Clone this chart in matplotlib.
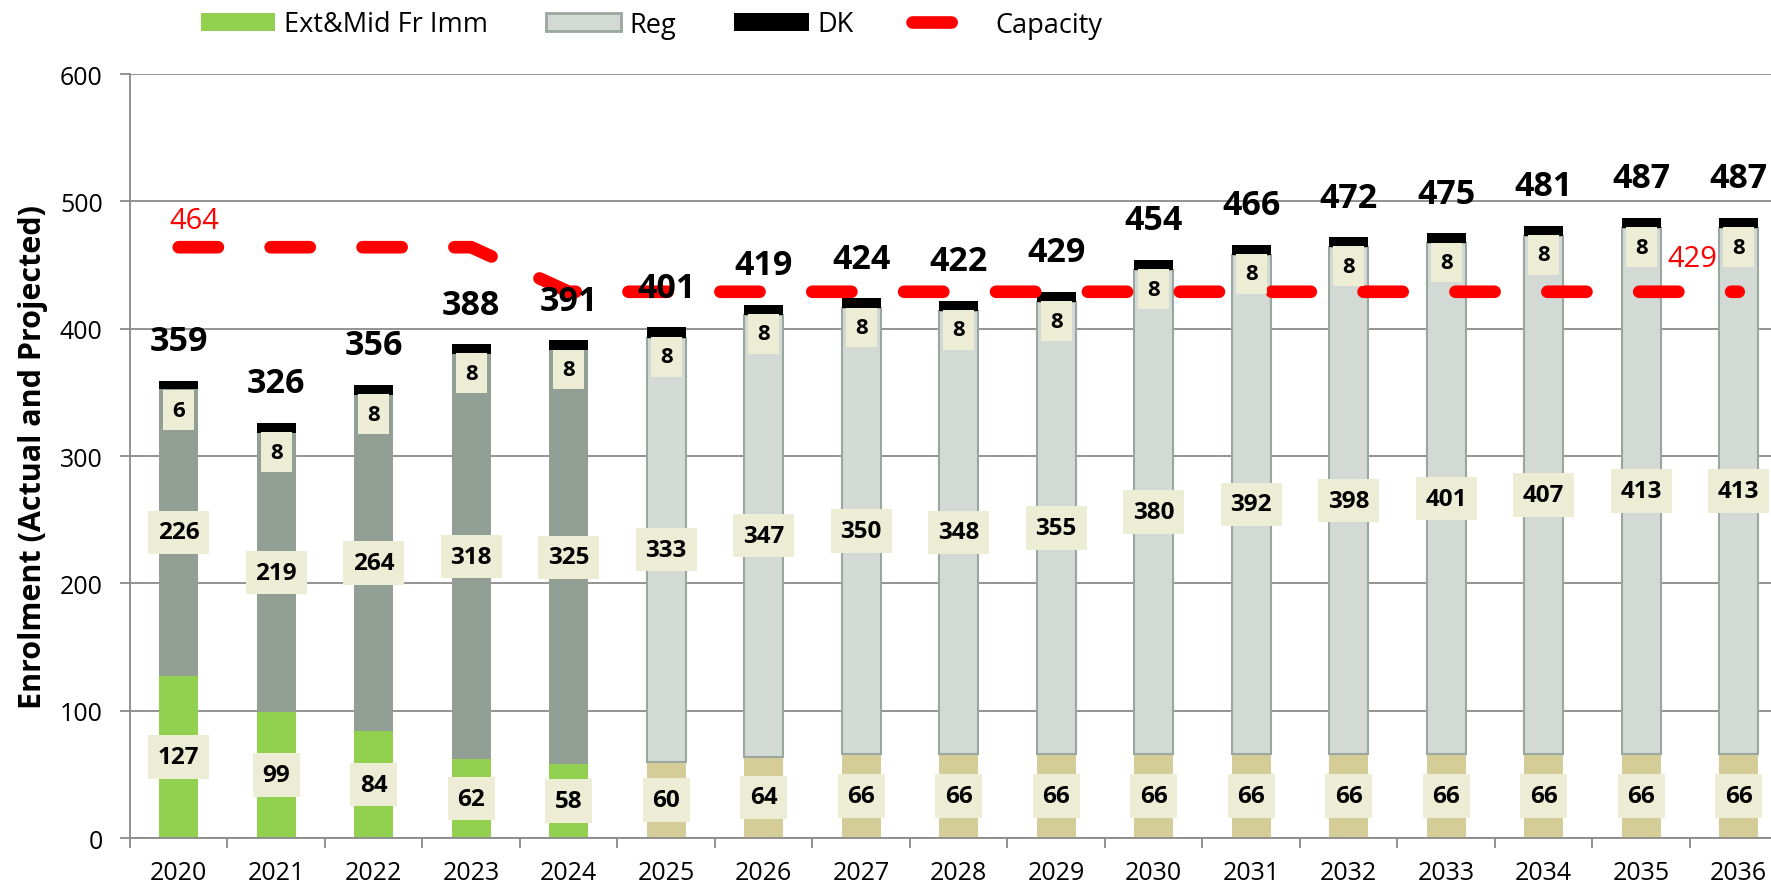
import numpy as np
import matplotlib
matplotlib.use('Agg')
import matplotlib.pyplot as plt
from matplotlib.patches import Patch
from matplotlib.lines import Line2D

plt.rcParams['font.family'] = ['Open Sans', 'DejaVu Sans']

# enrolment data, first 5 years are actual, rest projected
years = [2020, 2021, 2022, 2023, 2024, 2025, 2026, 2027, 2028,
         2029, 2030, 2031, 2032, 2033, 2034, 2035, 2036]
ext_mid = [127, 99, 84, 62, 58, 60, 64, 66, 66, 66, 66, 66, 66, 66, 66, 66, 66]
reg = [226, 219, 264, 318, 325, 333, 347, 350, 348, 355, 380, 392, 398,
       401, 407, 413, 413]
dk = [6, 8, 8, 8, 8, 8, 8, 8, 8, 8, 8, 8, 8, 8, 8, 8, 8]
capacity = [464, 464, 464, 464, 429, 429, 429, 429, 429, 429, 429, 429,
            429, 429, 429, 429, 429]
n_actual = 5

x = np.arange(len(years))
ext_mid = np.array(ext_mid)
reg = np.array(reg)
dk = np.array(dk)
totals = ext_mid + reg + dk
actual = x < n_actual

GREEN = '#92D050'
TAN = '#D5CD97'
REG_ACT = '#919F95'
REG_PROJ = '#D3DAD6'
REG_EDGE = '#9AA79E'
GRID = '#8A8A8A'
BOX = '#EDECD5'

fig = plt.figure(figsize=(17.71, 8.87), dpi=100)
ax = fig.add_axes([0.0734, 0.0541, 0.9359, 0.8613])

w = 0.4
ax.bar(x, ext_mid, w, color=[GREEN if a else TAN for a in actual], zorder=2)
ax.bar(x, reg, w, bottom=ext_mid, color=[REG_ACT if a else REG_PROJ for a in actual],
       edgecolor=['none' if a else REG_EDGE for a in actual], linewidth=1.5, zorder=2)
ax.bar(x, dk, w, bottom=ext_mid + reg, color='black', zorder=2)

cap_style = dict(color='red', lw=9.1, dashes=(3.1, 4.17), dash_capstyle='round')
ax.plot(x, capacity, zorder=3, **cap_style)

box_big = dict(boxstyle='square,pad=0.4', fc=BOX, ec='none')
box_small = dict(boxstyle='square,pad=0.42', fc=BOX, ec='none')
for i in x:
    ax.text(i, ext_mid[i] / 2, str(ext_mid[i]), ha='center', va='center',
            fontsize=17.5, fontweight='bold', bbox=box_big, zorder=5)
    ax.text(i, ext_mid[i] + reg[i] / 2, str(reg[i]), ha='center', va='center',
            fontsize=17.5, fontweight='bold', bbox=box_big, zorder=5)
    ax.text(i, totals[i] - 23, str(dk[i]), ha='center', va='center',
            fontsize=16, fontweight='bold', bbox=box_small, zorder=5)
    ax.text(i, totals[i] + 31, str(totals[i]), ha='center', va='center',
            fontsize=24.5, fontweight='bold', zorder=5)

ax.text(0.16, capacity[0] + 21, str(capacity[0]), color='red', fontsize=21,
        ha='center', va='center', zorder=5)
ax.text(15.52, capacity[-1] + 26, str(capacity[-1]), color='red', fontsize=21,
        ha='center', va='center', zorder=5)

ax.set_xlim(-0.5, 16.5)
ax.set_ylim(0, 600)
ax.set_yticks(range(0, 601, 100))
ax.set_xticks(x, [str(y) for y in years])
ax.set_xticks(np.arange(-0.5, len(years), 1), minor=True)
ax.tick_params(axis='x', which='major', length=0, pad=16, labelsize=18)
ax.tick_params(axis='x', which='minor', length=7.2, width=1.3, color=GRID)
ax.tick_params(axis='y', length=7.2, width=1.3, color=GRID, pad=12.5, labelsize=18)
ax.grid(axis='y', color=GRID, lw=1.3, zorder=0)
ax.set_axisbelow(True)
for s in ['top', 'right']:
    ax.spines[s].set_visible(False)
for s in ['left', 'bottom']:
    ax.spines[s].set_color(GRID)
    ax.spines[s].set_linewidth(1.3)

ax.set_ylabel('Enrolment (Actual and Projected)', fontsize=22, fontweight='bold')
ax.yaxis.set_label_coords(-0.0495, 0.5)

handles = [Patch(fc=GREEN, ec='none'),
           Patch(fc=REG_PROJ, ec=REG_EDGE, lw=2),
           Patch(fc='black', ec='none'),
           Line2D([], [], **cap_style)]
labels = ['Ext&Mid Fr Imm', 'Reg', 'DK', 'Capacity']
fig.legend(handles, labels, loc='center left', bbox_to_anchor=(201 / 1771, 1 - 25.5 / 887),
           ncol=4, frameon=False, fontsize=19.5, handlelength=2.74, handleheight=0.63,
           handletextpad=0.33, columnspacing=2.15, borderpad=0, borderaxespad=0)

fig.savefig('out.png', dpi=100)
